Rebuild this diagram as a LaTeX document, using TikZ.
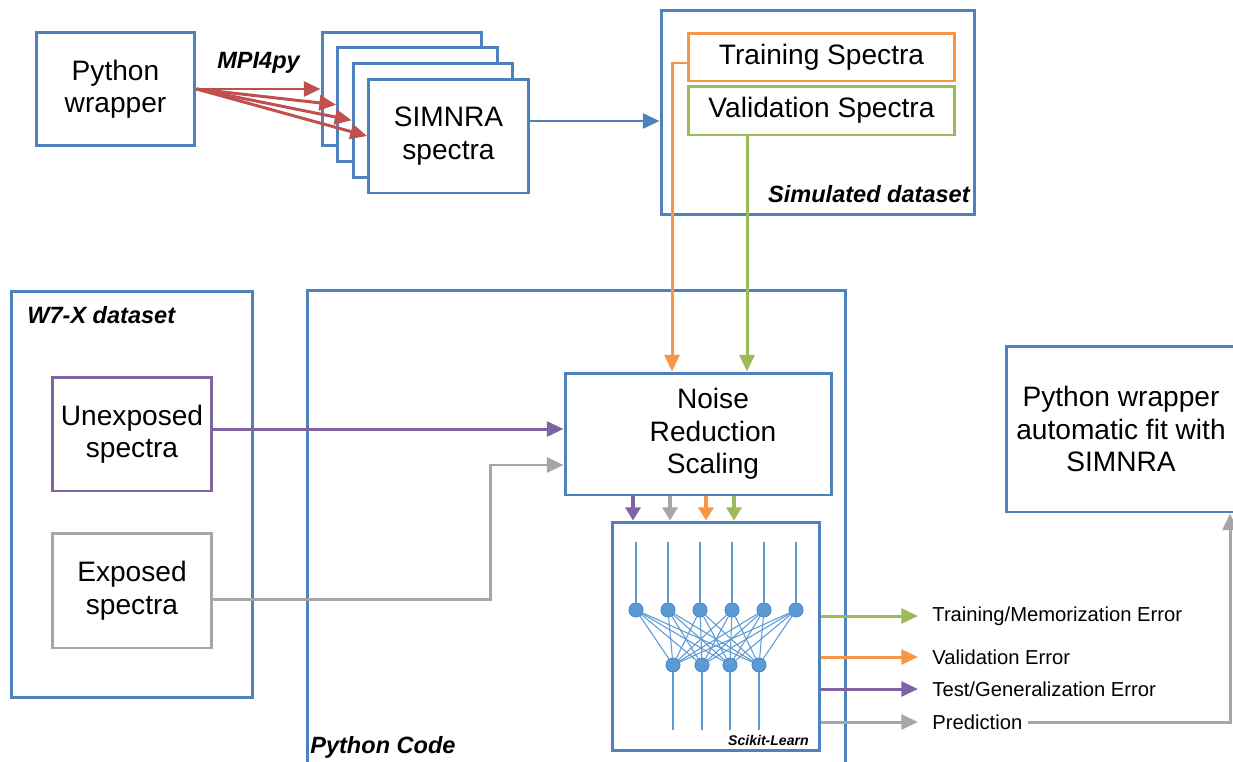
\documentclass[tikz,border=0pt]{standalone}
\usepackage{fontspec}
\setmainfont{Liberation Sans}
\usetikzlibrary{arrows.meta}
\definecolor{azul}{HTML}{4F81BD}
\definecolor{rojo}{HTML}{C0504D}
\definecolor{naranja}{HTML}{F79646}
\definecolor{verde}{HTML}{9BBB59}
\definecolor{morado}{HTML}{8064A2}
\definecolor{gris}{HTML}{A6A6A6}
\definecolor{celeste}{HTML}{5B9BD5}
\tikzset{
  caja/.style={draw=azul, line width=1.7pt, fill=white, align=center, inner sep=0pt,
    font=\fontsize{16}{18.5}\selectfont},
  etiqueta/.style={inner sep=0pt, font=\fontsize{13.4}{15}\selectfont\bfseries\itshape},
  salida/.style={anchor=west, inner xsep=8pt, inner ysep=0pt, font=\fontsize{11.5}{13}\selectfont},
  flecha/.style={line width=1.7pt, -{Triangle[length=9.5pt,width=8.5pt]}},
  flechita/.style={line width=2pt, -{Triangle[length=7.5pt,width=8.5pt]}},
  neurona/.style={circle, fill=celeste, draw=azul, line width=0.5pt, minimum size=0.28cm, inner sep=0pt},
  sinapsis/.style={draw=celeste, line width=0.6pt},
}
\begin{document}
\begin{tikzpicture}[x=0.02cm,y=-0.02cm]
  \clip (0,0) rectangle (1233,761);
  % Cajas grandes
  \node[caja, minimum width=10.78cm, minimum height=9.8cm] (pycode) at (576.5,535) {};
  \node[caja, minimum width=4.84cm, minimum height=8.14cm] (w7x) at (132,494.5) {};
  \node[caja, minimum width=6.28cm, minimum height=4.1cm] (simset) at (818,112.5) {};
  \node[etiqueta, anchor=west] (lpy) at (310,747) {Python Code};
  \node[etiqueta, anchor=west] (lw7x) at (27,315) {W7-X dataset};
  \node[etiqueta, anchor=east] (lsim) at (970,194) {Simulated dataset};
  \node[etiqueta, anchor=west] (lmpi) at (217,63) {MPI4py};

  % Cajas de texto
  \node[caja, minimum width=3.18cm, minimum height=2.28cm] (pyw) at (115.5,89) {Python\\wrapper};
  \foreach \i/\x/\y in {1/402/89, 2/417.5/104.7, 3/433/120.3}
    \node[caja, minimum width=3.2cm, minimum height=2.28cm] (sim\i) at (\x,\y) {};
  \node[caja, minimum width=3.2cm, minimum height=2.28cm] (sim4) at (448.5,136) {SIMNRA\\spectra};
  \node[caja, draw=naranja, minimum width=5.34cm, minimum height=0.96cm] (train) at (821.5,57) {Training Spectra};
  \node[caja, draw=verde, minimum width=5.34cm, minimum height=0.98cm] (valid) at (821.5,110.5) {Validation Spectra};
  \node[caja, draw=morado, minimum width=3.2cm, minimum height=2.28cm] (unexp) at (132,434) {Unexposed\\spectra};
  \node[caja, draw=gris, minimum width=3.2cm, minimum height=2.3cm] (exp) at (132,590.5) {Exposed\\spectra};
  \node[caja, minimum width=5.34cm, minimum height=2.44cm,
    label={[align=center, xshift=0.29cm, font=\fontsize{16}{18.5}\selectfont]center:Noise\\Reduction\\Scaling}] (noise) at (698.5,434) {};
  \node[caja, minimum width=4.6cm, minimum height=3.32cm] (fit) at (1121,429) {Python wrapper\\automatic fit with\\SIMNRA};

  % Red neuronal
  \node[caja, minimum width=4.16cm, minimum height=4.58cm] (nn) at (716,636.5) {};
  \node[inner sep=0pt, anchor=east, font=\fontsize{8}{9}\selectfont\bfseries\itshape] (lsk) at (809,740) {Scikit-Learn};
  \foreach \x [count=\i] in {636,668,700,732,764,796}
    \node[neurona] (e\i) at (\x,610) {};
  \foreach \x [count=\j] in {673,702,730,759}
    \node[neurona] (o\j) at (\x,665) {};
  \foreach \i in {1,...,6} {
    \draw[sinapsis] (e\i) -- ++(0,-68);
    \foreach \j in {1,...,4}
      \draw[sinapsis] (e\i) -- (o\j);
  }
  \foreach \j in {1,...,4}
    \draw[sinapsis] (o\j) -- ++(0,65);

  % Conectores
  \foreach \i in {1,...,4}
    \draw[flecha, rojo] (pyw.east) -- (sim\i.west);
  \coordinate (sb) at ([yshift=0.3cm]sim4.east);
  \draw[flecha, azul] (sb) -- (sb -| simset.west);

  \coordinate (xo) at (672,0);
  \coordinate (xv) at (747,0);
  \coordinate (xg) at (490,0);
  \coordinate (xp) at (1230,0);
  \coordinate (tw) at ([yshift=-0.12cm]train.west);
  \draw[flecha, naranja] (tw) -| (xo |- noise.north);
  \draw[flecha, verde] (xv |- valid.south) -- (xv |- noise.north);

  \coordinate (pu) at ([yshift=0.1cm]unexp.east);
  \draw[flecha, morado] (pu) -- (pu -| noise.west);
  \coordinate (gr) at ([yshift=-0.17cm]exp.east);
  \coordinate (gn) at ([yshift=-0.62cm]noise.west);
  \draw[flecha, gris] (gr) -| (xg |- gn) -- (gn);

  \foreach \x/\c [count=\k] in {633/morado,670/gris,706/naranja,734/verde} {
    \coordinate (b\k) at (\x,0);
    \draw[flechita, color=\c] (b\k |- noise.south) -- (b\k |- nn.north);
  }

  % Salidas
  \node[salida] (tr) at (918,616) {Training/Memorization Error};
  \node[salida] (va) at (918,657) {Validation Error};
  \node[salida] (te) at (918,689) {Test/Generalization Error};
  \node[salida] (pr) at (918,722) {Prediction};
  \draw[flecha, verde] (nn.east |- tr.west) -- (tr.west);
  \draw[flecha, naranja] (nn.east |- va.west) -- (va.west);
  \draw[flecha, morado] (nn.east |- te.west) -- (te.west);
  \draw[flecha, gris] (nn.east |- pr.west) -- (pr.west);
  \draw[flecha, gris] ([xshift=-0.18cm]pr.east) -| (xp |- fit.south);
\end{tikzpicture}
\end{document}
